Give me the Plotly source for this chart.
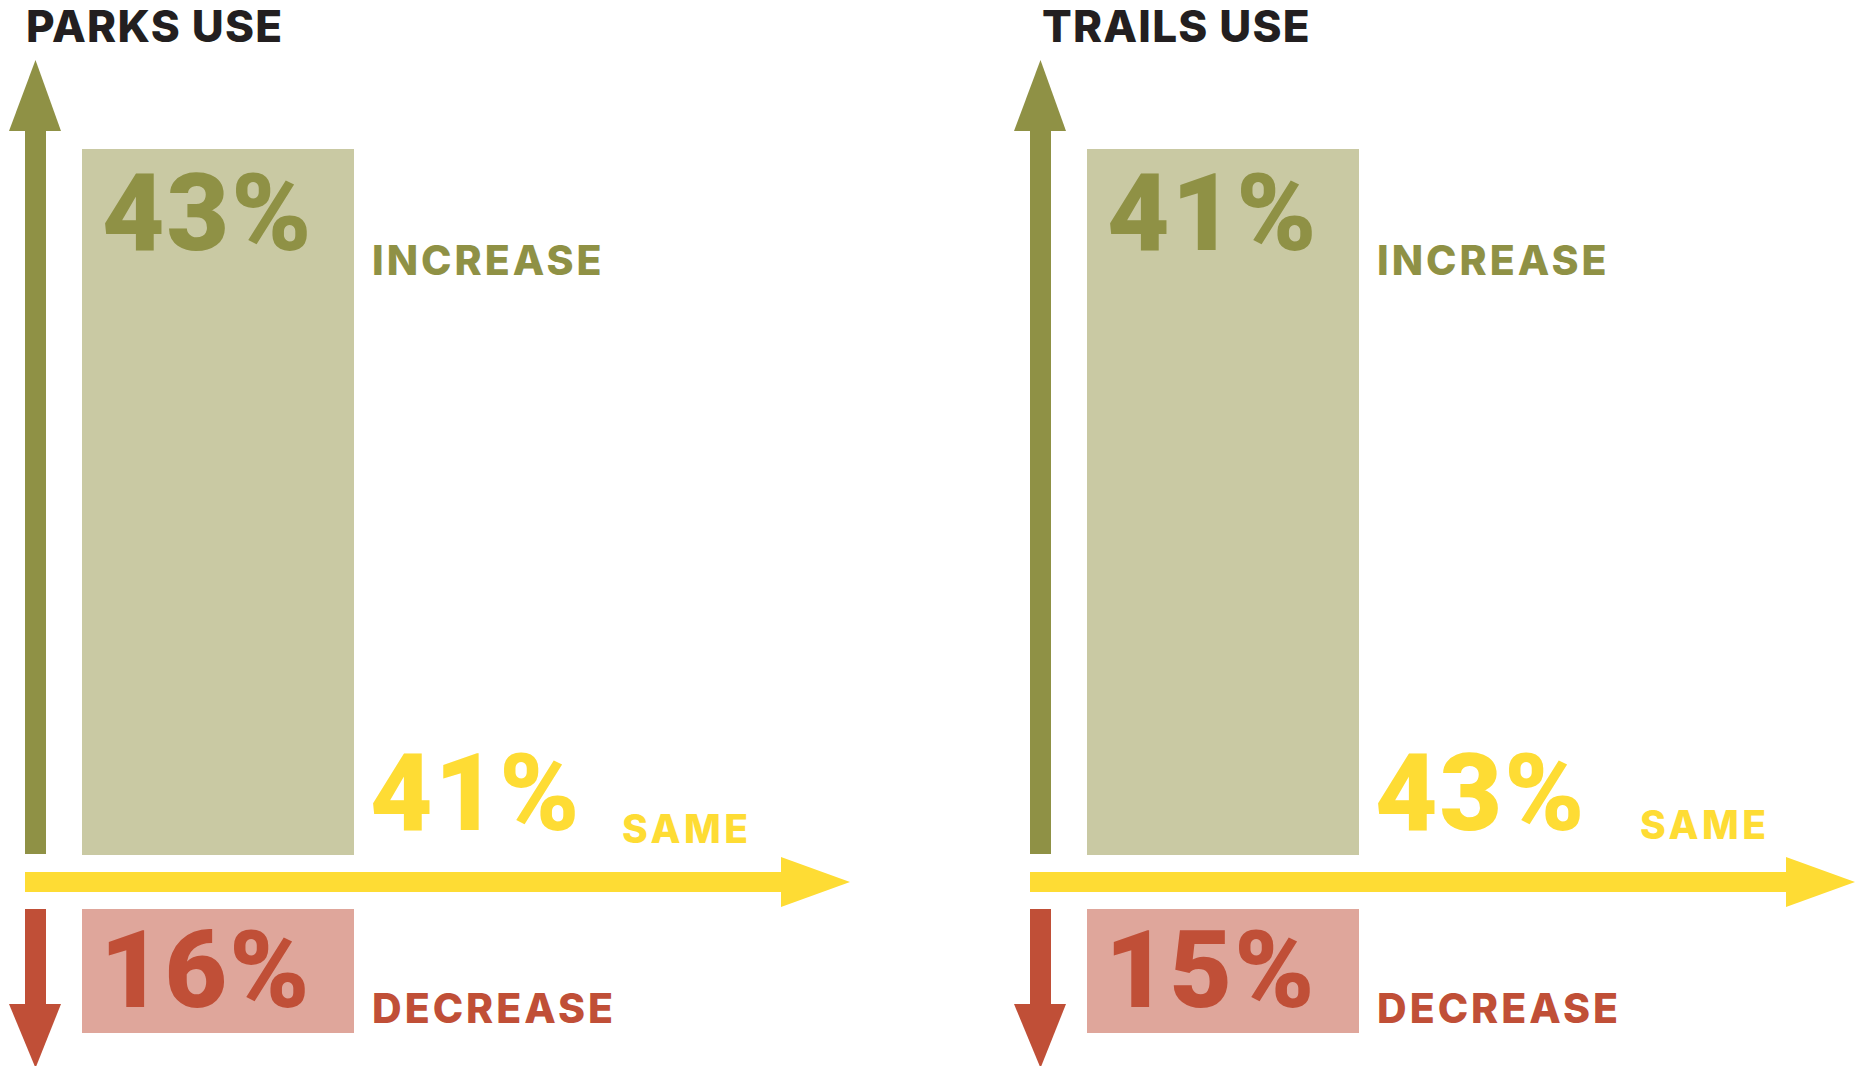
import plotly.graph_objects as go

# ---------------- data ----------------
panels = ["PARKS USE", "TRAILS USE"]
categories = ["INCREASE", "SAME", "DECREASE"]
increase_pct = [43, 41]
same_pct = [41, 43]
decrease_pct = [16, 15]

# ---------------- style ----------------
W, H = 1856, 1066
FONT = "Inter"
NUM_FONT = "Roboto"
OLIVE = "#8F9145"
OLIVE_LIGHT = "#C9C9A3"
YELLOW = "#FEDC34"
RED = "#C04F37"
PINK = "#DFA69B"
DARK = "#231F20"

PANEL_DX = [0, 1005]          # horizontal offset of each panel
TITLE_X = [24, 1040]
SAME_X = [620, 1638]
SAME_Y = [828, 824]

fig = go.Figure()
shapes = []
annotations = []


def poly(points, color):
    d = "M " + " L ".join(f"{x},{y}" for x, y in points) + " Z"
    return dict(type="path", path=d, xref="x", yref="y",
                fillcolor=color, line=dict(width=0), layer="below")


def rect(x0, y0, x1, y1, color):
    return dict(type="rect", x0=x0, y0=y0, x1=x1, y1=y1, xref="x", yref="y",
                fillcolor=color, line=dict(width=0), layer="below")


def label(text, x, y, size, color, spacing=0, weight=800, family=FONT):
    if spacing:
        text = f'<span style="letter-spacing:{spacing}px">{text}</span>'
    return dict(text=text, x=x, y=y, xref="x", yref="y", xanchor="left",
                yanchor="middle", showarrow=False,
                font=dict(family=family, size=size, color=color, weight=weight))


def number(value, x, y, color):
    return label(f"{value}%", x, y, 108, color, spacing=2, weight=900, family=NUM_FONT)


for i, name in enumerate(panels):
    dx = PANEL_DX[i]
    # up arrow (increase)
    shapes.append(rect(dx + 25, 130, dx + 46, 854, OLIVE))
    shapes.append(poly([(dx + 9, 131), (dx + 35.5, 60), (dx + 61, 131)], OLIVE))
    # increase box
    shapes.append(rect(dx + 82, 149, dx + 354, 855, OLIVE_LIGHT))
    # horizontal arrow (same)
    shapes.append(rect(dx + 25, 872, dx + 782, 892, YELLOW))
    shapes.append(poly([(dx + 781, 857), (dx + 850, 882), (dx + 781, 907)], YELLOW))
    # down arrow (decrease)
    shapes.append(rect(dx + 25, 909, dx + 46, 1005, RED))
    shapes.append(poly([(dx + 9, 1004), (dx + 61, 1004), (dx + 35.5, 1068)], RED))
    # decrease box
    shapes.append(rect(dx + 82, 909, dx + 354, 1033, PINK))

    # texts
    annotations.append(label(name, TITLE_X[i], 26, 44, DARK, spacing=1.2))
    annotations.append(number(increase_pct[i], dx + 100, 213, OLIVE))
    annotations.append(label(categories[0], dx + 370, 260, 41, OLIVE, spacing=3))
    annotations.append(number(same_pct[i], dx + 368, 793, YELLOW))
    annotations.append(label(categories[1], SAME_X[i], SAME_Y[i], 39, YELLOW, spacing=3.5))
    annotations.append(number(decrease_pct[i], dx + 98, 970, RED))
    annotations.append(label(categories[2], dx + 370, 1008, 41, RED, spacing=3))

annotations.append(dict(text="M", x=-4, y=1060, xref="x", yref="y",
                        xanchor="left", yanchor="middle", showarrow=False,
                        font=dict(family=FONT, size=11, color="#555555")))

fig.update_layout(
    width=W, height=H,
    margin=dict(l=0, r=0, t=0, b=0),
    paper_bgcolor="white", plot_bgcolor="white",
    shapes=shapes, annotations=annotations,
    showlegend=False,
    xaxis=dict(range=[0, W], visible=False, fixedrange=True),
    yaxis=dict(range=[H, 0], visible=False, fixedrange=True),
)

fig.write_html("out.html", config={"displayModeBar": False})
